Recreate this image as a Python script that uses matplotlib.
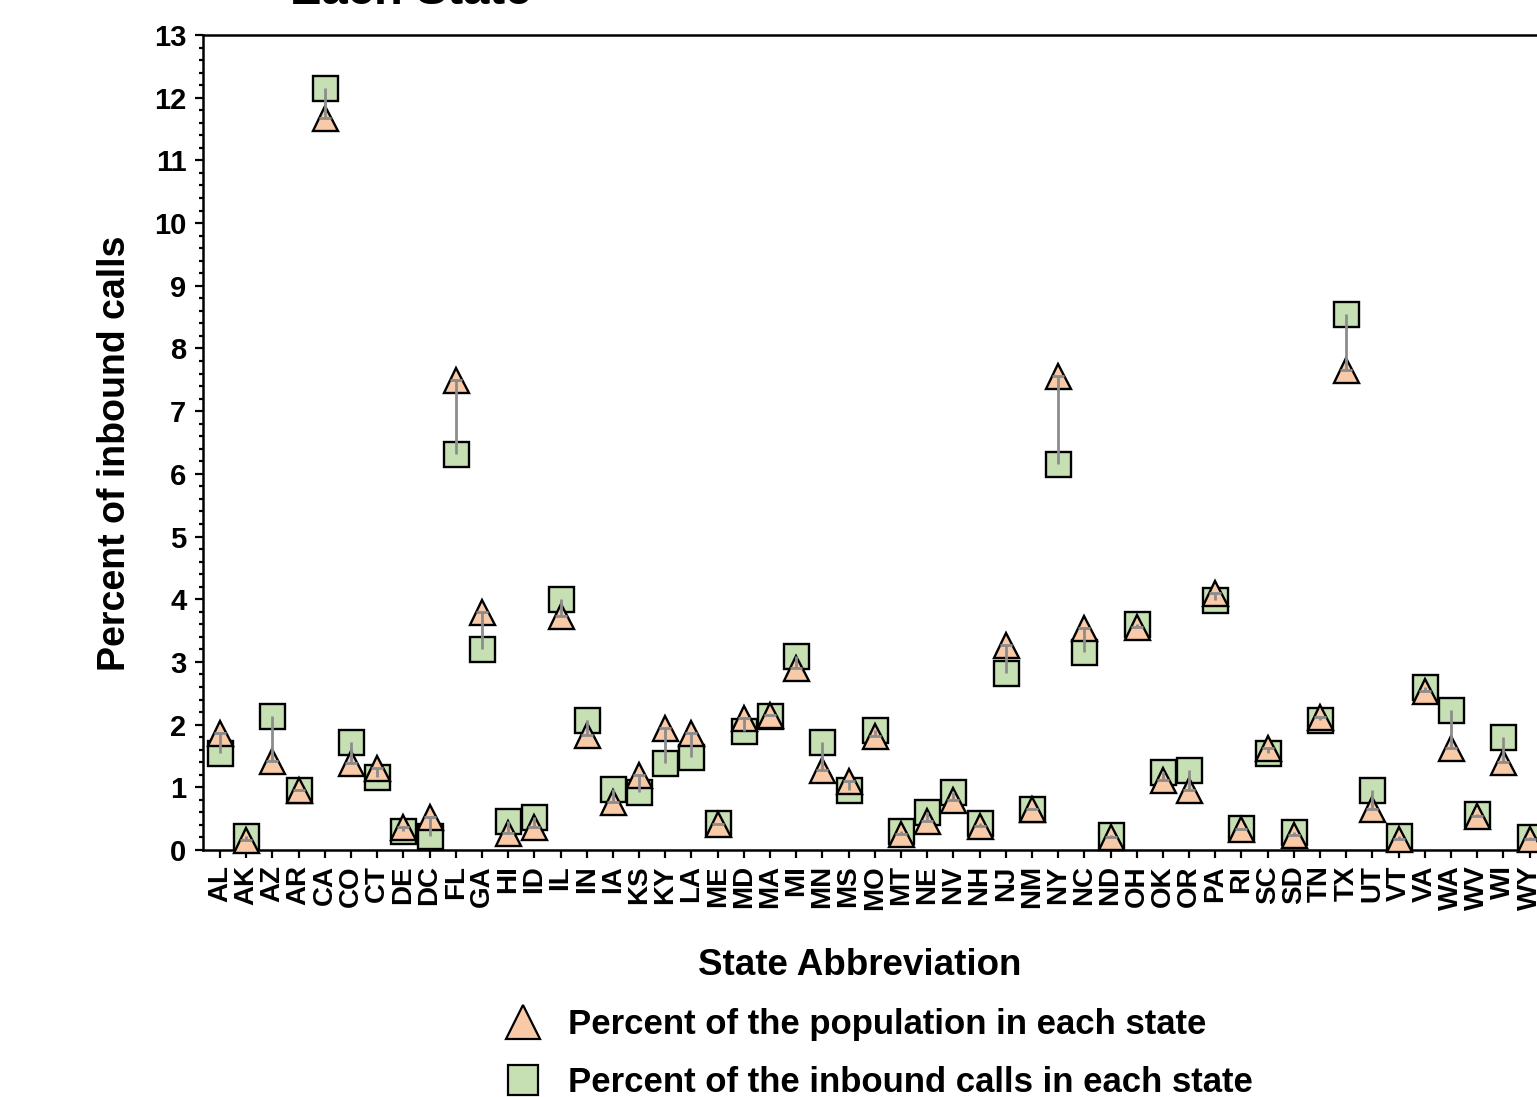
import matplotlib
matplotlib.use("Agg")
import matplotlib.pyplot as plt
from matplotlib.lines import Line2D

plt.rcParams['font.family'] = ['Liberation Sans', 'DejaVu Sans']
plt.rcParams['font.weight'] = 'bold'

### data

states = ['AL', 'AK', 'AZ', 'AR', 'CA', 'CO', 'CT', 'DE', 'DC', 'FL', 'GA',
          'HI', 'ID', 'IL', 'IN', 'IA', 'KS', 'KY', 'LA', 'ME', 'MD', 'MA',
          'MI', 'MN', 'MS', 'MO', 'MT', 'NE', 'NV', 'NH', 'NJ', 'NM', 'NY',
          'NC', 'ND', 'OH', 'OK', 'OR', 'PA', 'RI', 'SC', 'SD', 'TN', 'TX',
          'UT', 'VT', 'VA', 'WA', 'WV', 'WI', 'WY']

# triangles
pop_pct = [1.87, 0.16, 1.42, 0.95, 11.68, 1.39, 1.31, 0.37, 0.53, 7.49, 3.79,
           0.27, 0.37, 3.74, 1.84, 0.76, 1.19, 1.94, 1.86, 0.42, 2.10, 2.15,
           2.90, 1.28, 1.10, 1.82, 0.26, 0.46, 0.79, 0.39, 3.27, 0.65, 7.56,
           3.54, 0.21, 3.56, 1.11, 0.95, 4.10, 0.34, 1.63, 0.24, 2.12, 7.66,
           0.66, 0.18, 2.53, 1.62, 0.55, 1.40, 0.17]

# squares
calls_pct = [1.54, 0.23, 2.13, 0.95, 12.16, 1.72, 1.16, 0.31, 0.23, 6.32, 3.20,
             0.47, 0.53, 4.01, 2.07, 0.98, 0.93, 1.39, 1.48, 0.43, 1.90, 2.14,
             3.09, 1.72, 0.95, 1.91, 0.31, 0.61, 0.92, 0.43, 2.83, 0.65, 6.16,
             3.16, 0.24, 3.60, 1.24, 1.28, 3.99, 0.35, 1.54, 0.28, 2.07, 8.55,
             0.95, 0.22, 2.60, 2.23, 0.58, 1.81, 0.20]

yticks = list(range(0, 14))

pop_label = 'Percent of the population in each state'
calls_label = 'Percent of the inbound calls in each state'

tri_color = '#F9CAA7'
sq_color = '#C6E0B4'
line_color = '#8C8C8C'

W, H = 1537, 1097
fig = plt.figure(figsize=(W / 100, H / 100), dpi=100)

# axes run past the right edge of the picture, like the original crop
left, right_px, top_px, bot_px = 203, 1544, 35, 850
ax = fig.add_axes([left / W, (H - bot_px) / H,
                   (right_px - left) / W, (bot_px - top_px) / H])

x = list(range(len(states)))

# squares first, triangles on top, then the gray connector
ax.plot(x, calls_pct, linestyle='none', marker='s', ms=18,
        markerfacecolor=sq_color, markeredgecolor='black', mew=1.7,
        clip_on=False, zorder=3)
ax.plot(x, pop_pct, linestyle='none', marker='^', ms=18,
        markerfacecolor=tri_color, markeredgecolor='black', mew=1.7,
        clip_on=False, zorder=4)
ax.vlines(x, pop_pct, calls_pct, color=line_color, lw=2, zorder=5,
          clip_on=False)
ax.plot(x, pop_pct, linestyle='none', marker='_', ms=9, mew=2,
        color=line_color, zorder=5, clip_on=False)

ax.set_xlim(-0.65, 50.55)
ax.set_ylim(0, 13)
ax.set_xticks(x)
ax.set_xticklabels(states, rotation=90, fontsize=20, fontweight='bold')
ax.set_yticks(yticks)
ax.set_yticklabels([str(t) for t in yticks], fontsize=21, fontweight='bold')
ax.set_yticks([t / 5 for t in range(0, 65) if t % 5 != 0], minor=True)

ax.tick_params(axis='both', which='major', length=6, width=1.6,
               direction='out', color='black')
ax.tick_params(axis='y', which='major', pad=6)
ax.tick_params(axis='x', which='major', pad=5)
ax.tick_params(axis='y', which='minor', length=3, width=1.6)

for s in ['left', 'bottom', 'top']:
    ax.spines[s].set_linewidth(1.8)
ax.spines['right'].set_visible(False)

ax.set_ylabel('Percent of inbound calls', fontsize=27, fontweight='bold')
ax.yaxis.set_label_coords((133 - left) / (right_px - left),
                          (bot_px - 453) / (bot_px - top_px))
ax.set_xlabel('State Abbreviation', fontsize=26.5, fontweight='bold')
ax.xaxis.set_label_coords((860 - left) / (right_px - left), -0.12)

# only the bottom of the title's last line shows in the crop
fig.text(290 / W, 1 - 4 / H, 'Each State', fontsize=34, fontweight='bold',
         ha='left', va='baseline')

handles = [Line2D([], [], linestyle='none', marker='^', ms=24,
                  markerfacecolor=tri_color, markeredgecolor='black', mew=1.6),
           Line2D([], [], linestyle='none', marker='s', ms=21,
                  markerfacecolor=sq_color, markeredgecolor='black', mew=1.6)]
fig.legend(handles, [pop_label, calls_label], loc='upper left',
           bbox_to_anchor=(506 / W, (H - 1008) / H), frameon=False,
           prop={'weight': 'bold', 'size': 25},
           handlelength=1.0, handletextpad=0.8, labelspacing=0.72,
           borderpad=0, borderaxespad=0)

plt.savefig('out.png', dpi=100)
